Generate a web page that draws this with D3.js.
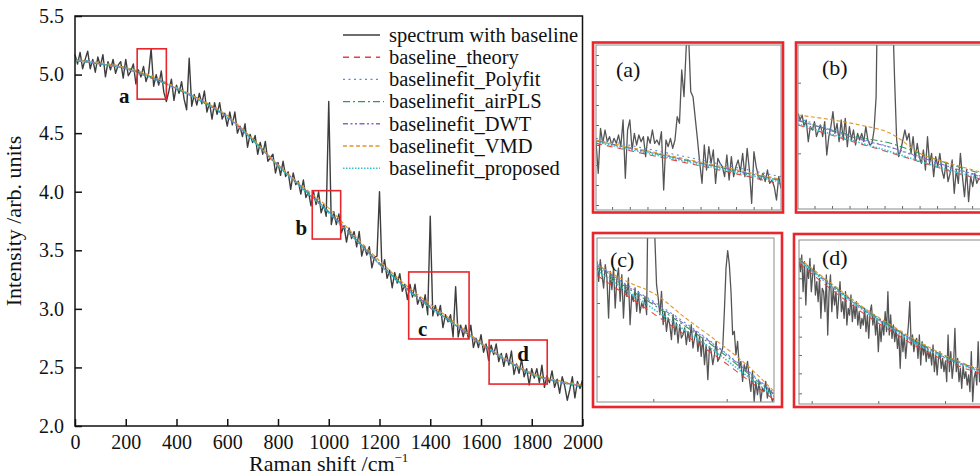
<!DOCTYPE html>
<html>
<head>
<meta charset="utf-8">
<script src="https://cdn.jsdelivr.net/npm/d3@7/dist/d3.min.js"></script>
<style>
  body { margin: 0; background: #fff; }
  svg text { font-family: "Liberation Serif", "Times New Roman", serif; fill: #111; }
</style>
</head>
<body>
<div id="chart"></div>
<script>
// ---- data ----
// main spectrum, one value every 10 cm-1 from 0 to 2000
var ramanStart = 0, ramanStep = 10;
var spectrum = [
  5.17,5.09,5.19,5.05,5.13,5.20,5.05,5.13,5.02,5.15,
  5.07,5.17,4.98,5.11,5.04,5.13,5.01,5.08,5.11,4.97,
  5.13,4.99,5.03,5.09,4.92,5.04,4.98,5.07,4.94,5.01,
  5.22,4.90,5.00,4.91,5.03,4.85,4.77,4.86,4.96,4.78,
  4.91,4.84,4.94,4.79,4.70,5.14,4.73,4.83,4.74,4.84,
  4.75,4.86,4.68,4.76,4.62,4.76,4.66,4.76,4.62,4.67,
  4.56,4.68,4.57,4.68,4.50,4.56,4.47,4.58,4.38,4.49,
  4.42,4.48,4.32,4.42,4.32,4.43,4.26,4.29,4.32,4.16,
  4.25,4.14,4.26,4.13,4.17,4.02,4.16,4.06,4.09,3.98,
  4.10,3.95,4.00,3.88,4.00,3.89,4.00,3.82,3.89,3.79,
  4.77,3.72,3.83,3.72,3.81,3.65,3.71,3.57,3.69,3.60,
  3.66,3.53,3.66,3.45,3.54,3.46,3.53,3.35,3.44,3.45,
  4.00,3.31,3.42,3.26,3.33,3.18,3.31,3.22,3.30,3.15,
  3.21,3.08,3.21,3.10,3.21,3.04,3.10,3.01,3.12,2.95,
  3.79,2.94,3.03,2.94,3.03,2.84,2.95,2.89,2.95,2.76,
  3.19,2.76,2.86,2.76,2.86,2.75,2.86,2.67,2.75,2.67,
  2.78,2.63,2.70,2.56,2.69,2.61,2.70,2.55,2.62,2.51,
  2.62,2.52,2.64,2.44,2.53,2.45,2.57,2.42,2.49,2.35,
  2.49,2.41,2.49,2.37,2.52,2.33,2.43,2.37,2.47,2.33,
  2.40,2.28,2.42,2.34,2.22,2.31,2.42,2.24,2.38,2.32,
  2.39
];

// baselines on the main plot, knots every 100 cm-1
var baseX = [0,100,200,300,400,500,600,700,800,900,1000,1100,1200,1300,1400,1500,1600,1700,1800,1900,2000];
var baselineTheory   = [5.12,5.09,5.05,4.97,4.88,4.77,4.64,4.44,4.22,4.02,3.82,3.60,3.38,3.18,3.01,2.86,2.70,2.56,2.44,2.38,2.34];
var baselinePolyfit  = [5.13,5.10,5.05,4.98,4.89,4.77,4.63,4.44,4.23,4.02,3.82,3.61,3.39,3.19,3.02,2.86,2.71,2.57,2.45,2.38,2.33];
var baselineAirPLS   = [5.12,5.09,5.06,4.98,4.88,4.77,4.64,4.45,4.22,4.03,3.83,3.61,3.39,3.19,3.01,2.87,2.71,2.56,2.44,2.38,2.34];
var baselineDWT      = [5.13,5.09,5.05,4.98,4.88,4.78,4.64,4.44,4.23,4.03,3.83,3.61,3.38,3.19,3.02,2.86,2.70,2.56,2.45,2.38,2.35];
var baselineVMD      = [5.12,5.10,5.06,4.99,4.89,4.78,4.65,4.45,4.23,4.04,3.86,3.63,3.41,3.21,3.04,2.88,2.71,2.57,2.45,2.39,2.35];
var baselineProposed = [5.12,5.09,5.05,4.97,4.88,4.77,4.64,4.44,4.22,4.02,3.82,3.60,3.38,3.18,3.01,2.86,2.70,2.56,2.44,2.38,2.34];

var legendLabels = ["spectrum with baseline","baseline_theory","baselinefit_Polyfit","baselinefit_airPLS",
                    "baselinefit_DWT","baselinefit_VMD","baselinefit_proposed"];

var xTicks = [0,200,400,600,800,1000,1200,1400,1600,1800,2000];
var yTicks = [2.0,2.5,3.0,3.5,4.0,4.5,5.0,5.5];

// zoomed regions (boxes a-d)
var regionNames = ["a","b","c","d"];
var regionX = [[245,360],[935,1047],[1315,1553],[1632,1861]];
var regionY = [[4.79,5.22],[3.596,4.009],[2.743,3.315],[2.358,2.734]];

// inset spectra (evenly sampled across each region)
var insetA = [4.985,4.89,5.025,4.98,5.02,4.985,5.00,4.975,4.995,4.98,5.005,4.97,5.05,4.875,5.02,5.05,4.96,5.01,4.975,5.005,
  4.985,5.00,4.94,5.00,4.98,5.02,4.98,4.99,4.975,5.015,4.84,4.99,4.97,4.995,4.965,4.99,5.06,5.04,5.20,5.12,
  5.27,5.31,5.135,5.12,5.055,4.99,4.92,4.86,4.975,4.90,4.97,4.92,4.96,4.86,4.935,4.92,4.91,4.88,4.945,4.87,
  4.94,4.88,4.91,4.93,4.895,4.95,4.88,4.965,4.90,4.80,4.955,4.91,4.88,4.87,4.89,4.865,4.90,4.86,4.87,4.85,
  4.81,4.88,4.845];
var insetB = [3.887,3.867,3.882,3.847,3.867,3.802,3.847,3.837,3.862,3.817,3.837,3.852,3.817,3.862,3.762,3.817,3.847,3.892,3.827,3.857,
  3.802,3.867,3.807,3.872,3.787,3.847,3.807,3.837,3.792,3.827,3.807,3.827,3.802,3.847,3.807,3.792,3.797,
  3.837,3.937,4.40,4.70,4.77,4.74,4.70,4.72,4.55,4.20,3.987,3.807,3.757,
  3.777,3.807,3.837,3.807,3.827,3.767,3.817,3.747,3.797,3.757,3.737,3.777,3.717,3.817,3.737,3.767,3.697,3.757,3.727,3.767,
  3.717,3.692,3.737,3.682,3.707,3.747,3.647,3.717,3.677,3.767,3.697,3.637,3.717,3.622,3.697,3.667,3.707,3.677,3.692,3.687,3.697];
var insetC = [3.182,3.122,3.187,3.142,3.102,3.172,3.132,3.012,3.152,3.097,3.162,3.042,3.127,3.162,3.062,3.142,3.012,3.112,3.077,3.132,
  2.992,3.082,3.062,3.102,3.032,3.092,3.027,3.057,3.042,3.077,3.022,
  3.45,3.79,3.76,3.50,3.25,
  3.112,3.072,3.022,3.092,2.992,3.032,2.972,3.012,2.992,2.947,3.022,2.962,2.997,2.937,2.992,2.952,2.962,2.982,2.932,2.972,
  2.942,2.992,2.922,2.952,2.972,2.912,2.957,2.897,2.952,2.872,2.932,2.827,2.927,2.912,2.872,2.902,2.942,2.882,2.892,2.907,2.922,
  3.032,3.162,3.214,3.172,3.092,2.962,2.972,2.902,2.942,2.862,2.882,2.822,2.872,2.852,2.882,2.832,2.792,2.852,2.762,2.822,
  2.782,2.822,2.762,2.802,2.792,2.822,2.772,2.802,2.782,2.762,2.772];
var insetD = [2.697,2.657,2.707,2.597,2.687,2.557,2.667,2.637,2.697,2.597,2.647,2.677,2.587,2.627,2.567,2.637,2.517,2.607,2.597,2.537,
  2.647,2.467,2.597,2.647,2.537,2.607,2.557,2.597,2.517,2.577,2.627,2.537,2.567,2.517,2.597,2.497,2.547,2.527,2.587,2.507,
  2.557,2.517,2.567,2.497,2.537,2.487,2.517,2.497,2.547,2.477,2.527,2.457,2.537,2.557,2.497,2.527,2.467,2.517,2.417,2.497,
  2.447,2.507,2.467,2.537,2.477,2.597,2.467,2.527,2.457,2.497,2.447,2.487,2.427,2.467,2.367,2.477,2.417,2.467,2.397,2.447,
  2.497,2.567,2.437,2.467,2.417,2.447,2.457,2.397,2.467,2.377,2.447,2.407,2.437,2.387,2.427,2.397,2.417,2.377,2.437,2.357,
  2.407,2.347,2.397,2.417,2.367,2.397,2.357,2.387,2.327,2.467,2.357,2.417,2.337,2.377,2.487,2.357,2.397,2.327,2.367,2.307,
  2.377,2.337,2.357,2.317,2.347,2.297,2.417,2.267,2.337,2.357,2.317,2.447,2.327,2.377,2.337,2.357,2.347];
var insetSpectra = [insetA, insetB, insetC, insetD];
var insetYDomain = [[4.78,5.275],[3.60,4.092],[2.76,3.252],[2.26,2.752]];

// inset baselines: 7 evenly spaced knots, order theory, Polyfit, airPLS, DWT, VMD, proposed
var insetABase = [
  [4.98,4.96,4.94,4.92,4.90,4.879,4.858],
  [4.995,4.976,4.957,4.938,4.918,4.899,4.88],
  [4.988,4.968,4.948,4.928,4.908,4.888,4.868],
  [4.987,4.967,4.948,4.928,4.909,4.889,4.87],
  [4.99,4.97,4.951,4.931,4.912,4.892,4.872],
  [4.984,4.964,4.944,4.924,4.904,4.884,4.864]];
var insetBBase = [
  [3.852,3.824,3.796,3.769,3.74,3.712,3.687],
  [3.872,3.842,3.812,3.785,3.752,3.722,3.695],
  [3.865,3.839,3.815,3.797,3.765,3.732,3.705],
  [3.867,3.837,3.809,3.785,3.755,3.724,3.697],
  [3.882,3.869,3.852,3.827,3.765,3.735,3.709],
  [3.855,3.827,3.799,3.772,3.742,3.714,3.69]];
var insetCBase = [
  [3.14,3.08,3.02,2.96,2.90,2.834,2.767],
  [3.174,3.112,3.057,2.997,2.932,2.862,2.787],
  [3.164,3.104,3.047,2.987,2.924,2.854,2.782],
  [3.17,3.109,3.052,2.992,2.93,2.859,2.785],
  [3.172,3.122,3.082,3.012,2.947,2.877,2.792],
  [3.154,3.094,3.034,2.974,2.912,2.844,2.777]];
var insetDBase = [
  [2.682,2.607,2.537,2.477,2.422,2.379,2.347],
  [2.693,2.62,2.55,2.49,2.435,2.39,2.355],
  [2.695,2.622,2.552,2.492,2.437,2.392,2.357],
  [2.691,2.618,2.548,2.488,2.433,2.388,2.354],
  [2.697,2.625,2.555,2.495,2.44,2.394,2.359],
  [2.689,2.616,2.546,2.485,2.43,2.386,2.352]];
var insetBaselines = [insetABase, insetBBase, insetCBase, insetDBase];

// unlabelled inset ticks
var insetXTicks = [[255,266,277,288,299,310,321,332,343,354],
                   [945,955.6,966.2,976.8,987.4,998,1008.6,1019.2,1029.8,1040.4],
                   [1390.7,1489.4],
                   [1647.6,1729.6,1811.8]];
var insetYTicks = [[4.795,4.855,4.915,4.975,5.035,5.095,5.155,5.215,5.245],
                   [3.767,3.979],
                   [2.837,3.057],
                   [2.292,2.352,2.407,2.462,2.522,2.579,2.637,2.697]];

// ---- styles ----
var baseColors = ["#e8413c","#4d8fe0","#2b9e5a","#8c67c9","#e0982b","#35c3d0"];
var baseDash   = ["6,5","2,3.5","7,3,2,3","5,2.5,2,2.5,2,2.5","4,2.5","1.5,1.5"];
var specColor = "#3d3d3d";

var W = 980, H = 476;
var margin = {top: 16, right: 397, bottom: 50, left: 75},
    width = 582.5 - margin.left,
    height = 426 - margin.top;

var svg = d3.select("#chart").append("svg")
    .attr("width", W).attr("height", H);

var g = svg.append("g")
    .attr("transform", "translate(" + margin.left + "," + margin.top + ")");

var x = d3.scaleLinear().domain([0, 2000]).range([0, width]);
var y = d3.scaleLinear().domain([2.0, 5.5]).range([height, 0]);

// spectrum
var specLine = d3.line()
  .x(function(d, i) { return x(ramanStart + i * ramanStep); })
  .y(function(d) { return y(d); });

g.append("path")
  .datum(spectrum)
  .attr("fill", "none")
  .attr("stroke", specColor)
  .attr("stroke-width", 1.4)
  .attr("stroke-linejoin", "round")
  .attr("d", specLine);

// baselines
var mainBases = [baselineTheory, baselinePolyfit, baselineAirPLS, baselineDWT, baselineVMD, baselineProposed];
var baseLine = d3.line()
  .curve(d3.curveMonotoneX)
  .x(function(d, i) { return x(baseX[i]); })
  .y(function(d) { return y(d); });

mainBases.forEach(function(b, k) {
  g.append("path")
    .datum(b)
    .attr("fill", "none")
    .attr("stroke", baseColors[k])
    .attr("stroke-width", 1.2)
    .attr("stroke-dasharray", baseDash[k])
    .attr("d", baseLine);
});

// region boxes
regionNames.forEach(function(n, k) {
  g.append("rect")
    .attr("x", x(regionX[k][0]))
    .attr("y", y(regionY[k][1]))
    .attr("width", x(regionX[k][1]) - x(regionX[k][0]))
    .attr("height", y(regionY[k][0]) - y(regionY[k][1]))
    .attr("fill", "none")
    .attr("stroke", "#e8262b")
    .attr("stroke-width", 1.6);
});
// box letters
var letterPos = [
  {x: x(regionX[0][0]) - 13, y: y(regionY[0][0]) + 4},
  {x: x(regionX[1][0]) - 11, y: y(regionY[1][0]) - 4},
  {x: x(regionX[2][0]) + 14, y: y(regionY[2][0]) - 3},
  {x: x(regionX[3][0]) + 34, y: y(regionY[3][1]) + 21}
];
regionNames.forEach(function(n, k) {
  g.append("text")
    .attr("x", letterPos[k].x)
    .attr("y", letterPos[k].y)
    .attr("text-anchor", "middle")
    .style("font-size", "21px")
    .style("font-weight", "bold")
    .text(n);
});

// axes
var xAxis = g.append("g")
  .attr("transform", "translate(0," + height + ")")
  .call(d3.axisBottom(x).tickValues(xTicks).tickSize(-7).tickPadding(9).tickFormat(d3.format("d")));
var yAxis = g.append("g")
  .call(d3.axisLeft(y).tickValues(yTicks).tickSize(-7).tickPadding(11).tickFormat(d3.format(".1f")));
[xAxis, yAxis].forEach(function(a) {
  a.select(".domain").remove();
  a.selectAll("line").attr("stroke", "#111").attr("stroke-width", 1.5);
  a.selectAll("text").style("font-size", "20px").style("font-family", "Liberation Serif, serif").attr("fill", "#111");
});

g.append("rect")
  .attr("width", width).attr("height", height)
  .attr("fill", "none").attr("stroke", "#111").attr("stroke-width", 1.5);

// axis titles
svg.append("text")
  .attr("x", margin.left + width / 2)
  .attr("y", 471)
  .attr("text-anchor", "middle")
  .style("font-size", "22px")
  .text("Raman shift /cm")
  .append("tspan")
    .attr("dy", -9)
    .style("font-size", "13px")
    .text("\u22121");

svg.append("text")
  .attr("transform", "translate(21," + (margin.top + height / 2) + ") rotate(-90)")
  .attr("text-anchor", "middle")
  .style("font-size", "22px")
  .text("Intensity /arb. units");

// legend
var legend = svg.append("g").attr("transform", "translate(343,35)");
legendLabels.forEach(function(lab, k) {
  var row = legend.append("g").attr("transform", "translate(0," + (k * 22.2) + ")");
  row.append("line")
    .attr("x1", 0).attr("x2", k == 3 ? 41 : 37)
    .attr("stroke", k == 0 ? specColor : baseColors[k - 1])
    .attr("stroke-width", k == 0 ? 1.5 : 1.4)
    .attr("stroke-dasharray", k == 0 ? null : baseDash[k - 1]);
  row.append("text")
    .attr("x", 46)
    .attr("dy", "0.33em")
    .style("font-size", "20.5px")
    .text(lab);
});

// ---- insets ----
var insetFrames = [
  {x: 596, y: 45, w: 185, h: 165},
  {x: 798, y: 45, w: 185, h: 164},
  {x: 597, y: 238, w: 177, h: 164},
  {x: 799, y: 240, w: 186, h: 164}
];
var insetRed = [
  {x: 593, y: 42.5, w: 190, h: 170},
  {x: 796, y: 42.5, w: 190, h: 170},
  {x: 593, y: 233, w: 189, h: 174},
  {x: 794, y: 234, w: 190, h: 173}
];
var insetTitle = [{x: 616, y: 77}, {x: 822, y: 75}, {x: 610, y: 267}, {x: 822, y: 265}];
var insetNames = ["(a)","(b)","(c)","(d)"];

insetFrames.forEach(function(f, k) {
  var ig = svg.append("g").attr("transform", "translate(" + f.x + "," + f.y + ")");
  var ix = d3.scaleLinear().domain(regionX[k]).range([0, f.w]);
  var iy = d3.scaleLinear().domain(insetYDomain[k]).range([f.h, 0]);
  var data = insetSpectra[k];
  var step = (regionX[k][1] - regionX[k][0]) / (data.length - 1);
  var knotStep = (regionX[k][1] - regionX[k][0]) / 6;

  svg.append("clipPath").attr("id", "clip" + k)
    .append("rect").attr("width", f.w).attr("height", f.h);
  var plot = ig.append("g").attr("clip-path", "url(#clip" + k + ")");

  plot.append("path")
    .datum(data)
    .attr("fill", "none")
    .attr("stroke", "#555")
    .attr("stroke-width", 1.3)
    .attr("stroke-linejoin", "round")
    .attr("d", d3.line()
      .x(function(d, i) { return ix(regionX[k][0] + i * step); })
      .y(function(d) { return iy(d); }));

  var bl = d3.line()
    .curve(d3.curveMonotoneX)
    .x(function(d, i) { return ix(regionX[k][0] + i * knotStep); })
    .y(function(d) { return iy(d); });
  insetBaselines[k].forEach(function(b, j) {
    plot.append("path")
      .datum(b)
      .attr("fill", "none")
      .attr("stroke", baseColors[j])
      .attr("stroke-width", j == 5 ? 1.6 : 1.1)
      .attr("stroke-dasharray", baseDash[j])
      .attr("d", bl);
  });

  var ax = ig.append("g").attr("transform", "translate(0," + f.h + ")")
    .call(d3.axisBottom(ix).tickValues(insetXTicks[k]).tickSize(-3).tickFormat(""));
  var ay = ig.append("g")
    .call(d3.axisLeft(iy).tickValues(insetYTicks[k]).tickSize(-3).tickFormat(""));
  [ax, ay].forEach(function(a) {
    a.select(".domain").remove();
    a.selectAll("line").attr("stroke", "#666");
  });

  ig.append("rect")
    .attr("width", f.w).attr("height", f.h)
    .attr("fill", "none").attr("stroke", "#8a8a8a").attr("stroke-width", 1);

  var r = insetRed[k];
  svg.append("rect")
    .attr("x", r.x).attr("y", r.y).attr("width", r.w).attr("height", r.h)
    .attr("fill", "none").attr("stroke", "#e8262b").attr("stroke-width", 2.6);

  svg.append("text")
    .attr("x", insetTitle[k].x).attr("y", insetTitle[k].y)
    .style("font-size", "22px")
    .text(insetNames[k]);
});
</script>
</body>
</html>
